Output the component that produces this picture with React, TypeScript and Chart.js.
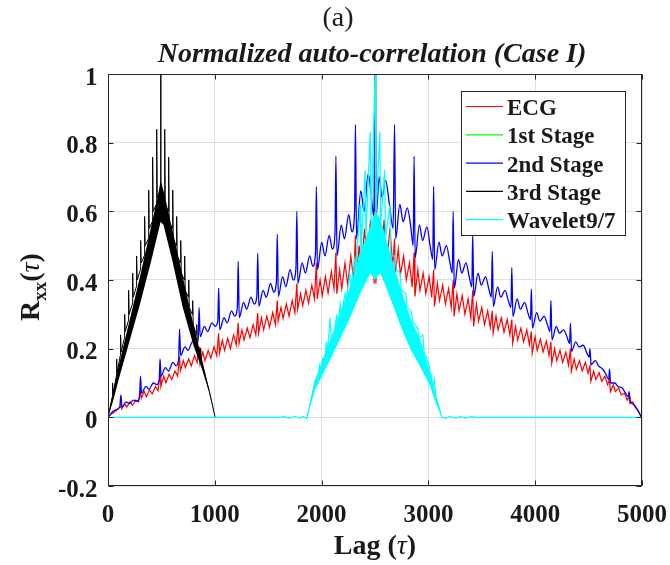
import React, { useEffect, useRef } from 'react';
import { Chart, registerables } from 'chart.js';

Chart.register(...registerables);

// ---------- data ----------
const xTickValues = [0, 1000, 2000, 3000, 4000, 5000];
const xTickLabels = ['0', '1000', '2000', '3000', '4000', '5000'];
const yTickValues = [-0.2, 0, 0.2, 0.4, 0.6, 0.8, 1];
const yTickLabels = ['-0.2', '0', '0.2', '0.4', '0.6', '0.8', '1'];
const seriesNames = ['ECG', '1st Stage', '2nd Stage', '3rd Stage', 'Wavelet9/7'];

// ECG (red) [lag, value]
const ecgPts: number[][] = [
  [0, 0], [30, 0.01], [60, 0.015], [90, 0.025], [115, 0.03],
  [121, 0.045], [129, 0.025], [156, 0.04], [176, 0.03], [206, 0.045], [231, 0.035], [261, 0.05], [286, 0.045],
  [304, 0.08], [312, 0.055], [339, 0.075], [359, 0.06], [389, 0.08], [414, 0.068], [444, 0.09], [469, 0.078],
  [487, 0.125], [495, 0.09], [522, 0.12], [542, 0.1], [572, 0.125], [597, 0.11], [627, 0.135], [652, 0.12],
  [670, 0.177], [678, 0.135], [705, 0.165], [725, 0.145], [755, 0.17], [780, 0.15], [810, 0.18], [835, 0.16],
  [853, 0.205], [861, 0.158], [888, 0.19], [908, 0.165], [938, 0.195], [963, 0.172], [993, 0.205], [1018, 0.18],
  [1036, 0.245], [1044, 0.187], [1071, 0.225], [1091, 0.195], [1121, 0.23], [1146, 0.2], [1176, 0.24], [1201, 0.21],
  [1219, 0.275], [1227, 0.216], [1254, 0.255], [1274, 0.225], [1304, 0.26], [1329, 0.232], [1359, 0.27], [1384, 0.24],
  [1402, 0.304], [1410, 0.245], [1437, 0.29], [1457, 0.255], [1487, 0.295], [1512, 0.262], [1542, 0.305], [1567, 0.27],
  [1585, 0.34], [1593, 0.28], [1620, 0.32], [1640, 0.288], [1670, 0.33], [1695, 0.295], [1725, 0.34], [1750, 0.305],
  [1768, 0.39], [1776, 0.315], [1803, 0.36], [1823, 0.325], [1853, 0.37], [1878, 0.333], [1908, 0.385], [1933, 0.345],
  [1951, 0.45], [1959, 0.345], [1986, 0.4], [2006, 0.355], [2036, 0.41], [2061, 0.362], [2091, 0.425], [2116, 0.375],
  [2134, 0.48], [2142, 0.36], [2169, 0.43], [2189, 0.375], [2219, 0.45], [2244, 0.385], [2274, 0.47], [2299, 0.4],
  [2317, 0.53], [2325, 0.41], [2352, 0.5], [2372, 0.43], [2402, 0.55], [2427, 0.45], [2457, 0.575], [2482, 0.47], [2492, 0.39],
  [2500, 1.0], [2508, 0.39], [2535, 0.56], [2555, 0.46], [2585, 0.575], [2610, 0.45], [2640, 0.55], [2665, 0.44],
  [2683, 0.52], [2691, 0.42], [2718, 0.49], [2738, 0.415], [2768, 0.47], [2793, 0.4], [2823, 0.45], [2848, 0.38],
  [2866, 0.48], [2874, 0.352], [2901, 0.43], [2921, 0.37], [2951, 0.42], [2976, 0.36], [3006, 0.41], [3031, 0.35],
  [3049, 0.43], [3057, 0.323], [3084, 0.39], [3104, 0.34], [3134, 0.385], [3159, 0.33], [3189, 0.375], [3214, 0.32],
  [3232, 0.4], [3240, 0.294], [3267, 0.36], [3287, 0.31], [3317, 0.355], [3342, 0.3], [3372, 0.345], [3397, 0.29],
  [3415, 0.37], [3423, 0.265], [3450, 0.33], [3470, 0.28], [3500, 0.32], [3525, 0.27], [3555, 0.31], [3580, 0.262],
  [3598, 0.31], [3606, 0.245], [3633, 0.295], [3653, 0.255], [3683, 0.29], [3708, 0.248], [3738, 0.285], [3763, 0.24],
  [3781, 0.285], [3789, 0.216], [3816, 0.265], [3836, 0.225], [3866, 0.26], [3891, 0.22], [3921, 0.255], [3946, 0.212],
  [3964, 0.25], [3972, 0.187], [3999, 0.235], [4019, 0.195], [4049, 0.228], [4074, 0.19], [4104, 0.222], [4129, 0.18],
  [4147, 0.22], [4155, 0.158], [4182, 0.2], [4202, 0.165], [4232, 0.195], [4257, 0.16], [4287, 0.19], [4312, 0.152],
  [4330, 0.2], [4338, 0.134], [4365, 0.17], [4385, 0.14], [4415, 0.165], [4440, 0.135], [4470, 0.16], [4495, 0.128],
  [4513, 0.15], [4521, 0.105], [4548, 0.135], [4568, 0.11], [4598, 0.13], [4623, 0.105], [4653, 0.12], [4678, 0.095],
  [4696, 0.11], [4704, 0.075], [4731, 0.095], [4751, 0.075], [4781, 0.085], [4806, 0.065], [4836, 0.07], [4861, 0.05],
  [4879, 0.06], [4887, 0.04], [4914, 0.045], [4934, 0.03], [4964, 0.02], [4995, 0],
];

// 1st Stage (green): hidden behind the other curves in the reference
const stage1Pts: number[][] = [];

// 2nd Stage (blue)
const stage2Pts: number[][] = [
  [0, 0], [60, 0.02], [110, 0.03],
  [121, 0.065], [131, 0.03], [170, 0.045], [200, 0.04], [240, 0.05], [270, 0.047], [296, 0.06],
  [304, 0.12], [314, 0.07], [355, 0.09], [385, 0.082], [425, 0.1], [455, 0.095], [480, 0.11],
  [487, 0.17], [497, 0.12], [537, 0.145], [567, 0.135], [607, 0.16], [637, 0.15], [662, 0.17],
  [670, 0.257], [680, 0.18], [720, 0.205], [750, 0.195], [790, 0.22], [820, 0.21], [845, 0.23],
  [853, 0.32], [863, 0.235], [903, 0.265], [933, 0.25], [973, 0.275], [1003, 0.265], [1028, 0.28],
  [1036, 0.376], [1046, 0.255], [1086, 0.29], [1116, 0.275], [1156, 0.31], [1186, 0.295], [1211, 0.32],
  [1219, 0.454], [1229, 0.29], [1269, 0.335], [1299, 0.315], [1339, 0.35], [1369, 0.33], [1394, 0.355],
  [1402, 0.478], [1412, 0.323], [1452, 0.37], [1482, 0.35], [1522, 0.39], [1552, 0.365], [1577, 0.395],
  [1585, 0.533], [1595, 0.352], [1635, 0.41], [1665, 0.38], [1705, 0.43], [1735, 0.4], [1760, 0.435],
  [1768, 0.6], [1778, 0.39], [1818, 0.45], [1848, 0.42], [1888, 0.47], [1918, 0.44], [1943, 0.48],
  [1951, 0.672], [1961, 0.43], [2001, 0.51], [2031, 0.47], [2071, 0.53], [2101, 0.49], [2126, 0.54],
  [2134, 0.761], [2144, 0.47], [2184, 0.56], [2214, 0.52], [2254, 0.59], [2284, 0.54], [2309, 0.6],
  [2317, 0.853], [2327, 0.52], [2367, 0.66], [2397, 0.6], [2437, 0.71], [2467, 0.64], [2490, 0.585],
  [2500, 1.0], [2510, 0.585], [2540, 0.7], [2565, 0.64], [2600, 0.69], [2635, 0.62], [2670, 0.55],
  [2683, 0.853], [2693, 0.52], [2733, 0.62], [2763, 0.57], [2803, 0.61], [2833, 0.56], [2858, 0.5],
  [2866, 0.761], [2876, 0.466], [2916, 0.56], [2946, 0.515], [2986, 0.555], [3016, 0.5], [3041, 0.46],
  [3049, 0.673], [3059, 0.43], [3099, 0.51], [3129, 0.47], [3169, 0.5], [3199, 0.455], [3224, 0.42],
  [3232, 0.6], [3242, 0.376], [3282, 0.46], [3312, 0.42], [3352, 0.45], [3382, 0.41], [3407, 0.38],
  [3415, 0.536], [3425, 0.352], [3465, 0.42], [3495, 0.385], [3535, 0.41], [3565, 0.375], [3590, 0.35],
  [3598, 0.483], [3608, 0.323], [3648, 0.38], [3678, 0.35], [3718, 0.37], [3748, 0.34], [3773, 0.32],
  [3781, 0.436], [3791, 0.294], [3831, 0.345], [3861, 0.315], [3901, 0.335], [3931, 0.305], [3956, 0.285],
  [3964, 0.373], [3974, 0.26], [4014, 0.305], [4044, 0.28], [4084, 0.295], [4114, 0.27], [4139, 0.25],
  [4147, 0.34], [4157, 0.226], [4197, 0.265], [4227, 0.245], [4267, 0.255], [4297, 0.235], [4322, 0.215],
  [4330, 0.274], [4340, 0.192], [4380, 0.22], [4410, 0.205], [4450, 0.21], [4480, 0.19], [4505, 0.175],
  [4513, 0.2], [4523, 0.153], [4563, 0.165], [4593, 0.15], [4633, 0.14], [4663, 0.125], [4688, 0.11],
  [4696, 0.14], [4706, 0.1], [4746, 0.1], [4776, 0.09], [4816, 0.085], [4846, 0.07], [4871, 0.06],
  [4879, 0.075], [4889, 0.05], [4930, 0.035], [4960, 0.02], [4995, 0],
];

// 3rd Stage (black) spiky trace
const stage3Pts: number[][] = [
  [0, 0], [40, 0.06], [43, 0.1], [48, 0.07], [78, 0.12], [81, 0.17], [86, 0.13], [115, 0.18], [118, 0.24], [123, 0.19],
  [153, 0.23], [156, 0.3], [161, 0.25], [190, 0.28], [193, 0.37], [198, 0.3], [228, 0.33], [231, 0.42], [236, 0.35],
  [265, 0.38], [268, 0.47], [273, 0.4], [303, 0.43], [306, 0.515], [311, 0.45], [340, 0.47], [343, 0.585], [348, 0.5],
  [378, 0.52], [381, 0.662], [386, 0.55], [415, 0.57], [418, 0.758], [423, 0.6], [453, 0.62], [456, 0.839], [461, 0.64],
  [490, 0.66], [493, 1.0], [496, 0.66],
  [528, 0.64], [531, 0.839], [536, 0.62], [565, 0.6], [568, 0.758], [573, 0.57], [603, 0.55], [606, 0.662], [611, 0.52],
  [640, 0.5], [643, 0.585], [648, 0.47], [678, 0.45], [681, 0.515], [686, 0.42], [715, 0.4], [718, 0.47], [723, 0.37],
  [753, 0.35], [756, 0.4], [761, 0.32], [790, 0.3], [793, 0.34], [798, 0.27], [828, 0.24], [831, 0.27], [836, 0.21],
  [865, 0.18], [868, 0.2], [873, 0.16], [910, 0.12], [950, 0.075], [1003, 0],
];
// 3rd Stage dense oscillation band (lower / upper extent)
const stage3Lower: number[][] = [
  [0, 0], [50, 0.05], [100, 0.11], [200, 0.22], [300, 0.33], [400, 0.45], [470, 0.54], [493, 0.57],
  [520, 0.56], [600, 0.46], [700, 0.32], [800, 0.21], [880, 0.14], [940, 0.08], [1003, 0],
];
const stage3Upper: number[][] = [
  [0, 0], [50, 0.075], [100, 0.15], [200, 0.28], [300, 0.41], [400, 0.55], [470, 0.65], [493, 0.69],
  [520, 0.66], [600, 0.55], [700, 0.41], [800, 0.27], [880, 0.17], [940, 0.09], [1003, 0],
];

// Wavelet9/7 (cyan) spiky trace
const waveletPts: number[][] = [
  [0, 0], [1600, 0], [1650, 0.002], [1700, -0.002], [1750, 0.003], [1800, -0.002], [1830, 0.003], [1862, -0.004],
  [1900, 0.05], [1940, 0.11], [1960, 0.1], [1980, 0.15], [1990, 0.13], [2010, 0.17], [2030, 0.16], [2045, 0.22],
  [2055, 0.19], [2080, 0.29], [2090, 0.22], [2120, 0.25], [2142, 0.3], [2150, 0.26], [2175, 0.33], [2185, 0.3],
  [2220, 0.36], [2230, 0.34], [2265, 0.42], [2275, 0.38], [2310, 0.46], [2320, 0.42], [2360, 0.62], [2368, 0.47],
  [2408, 0.72], [2416, 0.53], [2455, 0.832], [2463, 0.56], [2500, 1.0], [2508, 0.58], [2545, 0.832], [2553, 0.56],
  [2590, 0.72], [2598, 0.52], [2640, 0.62], [2648, 0.47], [2690, 0.47], [2700, 0.43], [2736, 0.42], [2746, 0.37],
  [2790, 0.36], [2800, 0.32], [2840, 0.31], [2850, 0.28], [2900, 0.26], [2910, 0.23], [2948, 0.24], [2960, 0.19],
  [3000, 0.16], [3017, 0.13], [3030, 0.12], [3040, 0.08], [3054, 0.11], [3070, 0.06], [3100, 0.03], [3126, 0],
  [3160, -0.003], [3200, 0.003], [3250, -0.002], [3300, 0.002], [3350, -0.002], [3400, 0.002], [3450, 0], [5000, 0],
];
const waveletLower: number[][] = [
  [1862, 0], [1940, 0.08], [2080, 0.168], [2170, 0.226], [2267, 0.29], [2361, 0.36], [2455, 0.42], [2500, 0.4],
  [2550, 0.42], [2640, 0.35], [2736, 0.27], [2830, 0.2], [2923, 0.148], [3017, 0.09], [3070, 0.04], [3126, 0],
];
const waveletUpper: number[][] = [
  [1862, 0], [1940, 0.11], [2080, 0.226], [2170, 0.3], [2267, 0.38], [2361, 0.48], [2455, 0.556], [2500, 0.6],
  [2550, 0.58], [2640, 0.48], [2736, 0.38], [2830, 0.29], [2923, 0.226], [3017, 0.13], [3070, 0.06], [3126, 0],
];

// ---------- styles ----------
const COLORS = ['#ff0000', '#00ff00', '#0000ff', '#000000', '#00ffff'];
const FONT = '"Liberation Serif", "Times New Roman", serif';
const AXIS_COLOR = '#262626';

const toXY = (pts: number[][]) => pts.map(([x, y]) => ({ x, y }));

const decorPlugin = {
  id: 'decor',
  afterDraw(chart: any) {
    const { ctx, chartArea: a } = chart;
    const xs = chart.scales.x;
    const ys = chart.scales.y;
    ctx.save();

    // box
    ctx.strokeStyle = AXIS_COLOR;
    ctx.lineWidth = 1;
    const L = Math.round(a.left) + 0.5, T = Math.round(a.top) + 0.5;
    const R = Math.round(a.right) - 0.5, B = Math.round(a.bottom) - 0.5;
    ctx.strokeRect(L, T, R - L, B - T);

    // inward tick marks
    ctx.beginPath();
    xTickValues.forEach((v) => {
      const px = Math.round(xs.getPixelForValue(v)) + 0.5;
      ctx.moveTo(px, B); ctx.lineTo(px, B - 5);
      ctx.moveTo(px, T); ctx.lineTo(px, T + 5);
    });
    yTickValues.forEach((v) => {
      const py = Math.round(ys.getPixelForValue(v)) + 0.5;
      ctx.moveTo(L, py); ctx.lineTo(L + 5, py);
      ctx.moveTo(R, py); ctx.lineTo(R - 5, py);
    });
    ctx.stroke();

    // tick labels
    ctx.fillStyle = '#1a1a1a';
    ctx.font = `bold 25px ${FONT}`;
    ctx.textBaseline = 'alphabetic';
    ctx.textAlign = 'center';
    xTickValues.forEach((v, i) => {
      ctx.fillText(xTickLabels[i], xs.getPixelForValue(v), a.bottom + 35.5);
    });
    ctx.textAlign = 'right';
    yTickValues.forEach((v, i) => {
      ctx.fillText(yTickLabels[i], a.left - 10.5, ys.getPixelForValue(v) + 10.5);
    });

    // "(a)" and title
    ctx.textAlign = 'center';
    ctx.font = `28px ${FONT}`;
    ctx.fillText('(a)', 338, 26);
    ctx.font = `italic bold 28px ${FONT}`;
    ctx.fillText('Normalized auto-correlation (Case I)', 372, 62);

    const drawParts = (parts: { t: string; f: string; dy: number }[], startX: number, baseY: number) => {
      let x = startX;
      ctx.textAlign = 'left';
      parts.forEach((p) => {
        ctx.font = p.f;
        ctx.fillText(p.t, x, baseY + p.dy);
        x += ctx.measureText(p.t).width;
      });
    };
    const measureParts = (parts: { t: string; f: string; dy: number }[]) =>
      parts.reduce((s, p) => { ctx.font = p.f; return s + ctx.measureText(p.t).width; }, 0);

    // x axis title: Lag (τ)
    const xTitle = [
      { t: 'Lag (', f: `bold 28px ${FONT}`, dy: 0 },
      { t: 'τ', f: `italic 28px ${FONT}`, dy: 0 },
      { t: ')', f: `bold 28px ${FONT}`, dy: 0 },
    ];
    const xw = measureParts(xTitle);
    drawParts(xTitle, (a.left + a.right) / 2 - xw / 2, 554);

    // y axis title: R_xx(τ), rotated
    const yTitle = [
      { t: 'R', f: `bold 28px ${FONT}`, dy: 0 },
      { t: 'xx', f: `bold 19px ${FONT}`, dy: 7 },
      { t: '(', f: `bold 28px ${FONT}`, dy: 0 },
      { t: 'τ', f: `italic 28px ${FONT}`, dy: 0 },
      { t: ')', f: `bold 28px ${FONT}`, dy: 0 },
    ];
    const yw = measureParts(yTitle);
    ctx.save();
    ctx.translate(39, 0);
    ctx.rotate(-Math.PI / 2);
    drawParts(yTitle, -(287 + yw / 2), 0);
    ctx.restore();

    // legend
    const lx = 461, ly = 91, lw = 164, lh = 144;
    ctx.fillStyle = '#ffffff';
    ctx.fillRect(lx, ly, lw, lh);
    ctx.strokeStyle = AXIS_COLOR;
    ctx.lineWidth = 1;
    ctx.strokeRect(lx + 0.5, ly + 0.5, lw, lh);
    ctx.font = `bold 23px ${FONT}`;
    ctx.textAlign = 'left';
    seriesNames.forEach((n, i) => {
      const base = 115 + i * 28.3;
      ctx.strokeStyle = COLORS[i];
      ctx.lineWidth = 1.2;
      ctx.beginPath();
      ctx.moveTo(466, base - 8.5);
      ctx.lineTo(503, base - 8.5);
      ctx.stroke();
      ctx.fillStyle = '#1a1a1a';
      ctx.fillText(n, 507, base);
    });

    ctx.restore();
  },
};

export default function App() {
  const ref = useRef<HTMLCanvasElement | null>(null);

  useEffect(() => {
    if (!ref.current) return;
    const line = (label: string, pts: number[][], color: string, order: number, width = 1.2, smooth = false) => ({
      label, data: toXY(pts), borderColor: color, borderWidth: width, pointRadius: 0,
      fill: false, order, tension: smooth ? 0.4 : 0,
      cubicInterpolationMode: smooth ? 'monotone' : 'default',
    });
    const chart = new Chart(ref.current, {
      type: 'line',
      data: {
        datasets: [
          line(seriesNames[0], ecgPts, COLORS[0], 8, 1.2),
          line(seriesNames[1], stage1Pts, COLORS[1], 7),
          line(seriesNames[2], stage2Pts, COLORS[2], 6, 1.3, true),
          { ...line('band3lo', stage3Lower, 'rgba(0,0,0,0)', 5) },
          { ...line('band3hi', stage3Upper, 'rgba(0,0,0,0)', 5), fill: 3, backgroundColor: COLORS[3] },
          line(seriesNames[3], stage3Pts, COLORS[3], 4, 1),
          { ...line('bandWlo', waveletLower, 'rgba(0,0,0,0)', 3) },
          { ...line('bandWhi', waveletUpper, 'rgba(0,0,0,0)', 3), fill: 6, backgroundColor: COLORS[4] },
          line(seriesNames[4], waveletPts, COLORS[4], 2),
        ] as any,
      },
      options: {
        animation: false,
        responsive: false,
        devicePixelRatio: 1,
        layout: { padding: { left: 0, top: 74, right: 28, bottom: 0 } },
        plugins: { legend: { display: false }, tooltip: { enabled: false }, title: { display: false } },
        elements: { point: { radius: 0 } },
        scales: {
          x: {
            type: 'linear', min: 0, max: 5000,
            afterBuildTicks: (s: any) => { s.ticks = xTickValues.map((v) => ({ value: v })); },
            ticks: { display: false },
            grid: { color: '#dfdfdf', drawTicks: false },
            border: { display: false },
            afterFit: (s: any) => { s.height = 79; },
          },
          y: {
            type: 'linear', min: -0.2, max: 1,
            afterBuildTicks: (s: any) => { s.ticks = yTickValues.map((v) => ({ value: v })); },
            ticks: { display: false },
            grid: { color: '#dfdfdf', drawTicks: false },
            border: { display: false },
            afterFit: (s: any) => { s.width = 108; },
          },
        },
      } as any,
      plugins: [decorPlugin],
    });
    return () => chart.destroy();
  }, []);

  return (
    <div style={{ position: 'absolute', left: 0, top: 0, width: 670, height: 565, background: '#fff' }}>
      <canvas ref={ref} width={670} height={565} style={{ width: 670, height: 565, display: 'block' }} />
    </div>
  );
}
